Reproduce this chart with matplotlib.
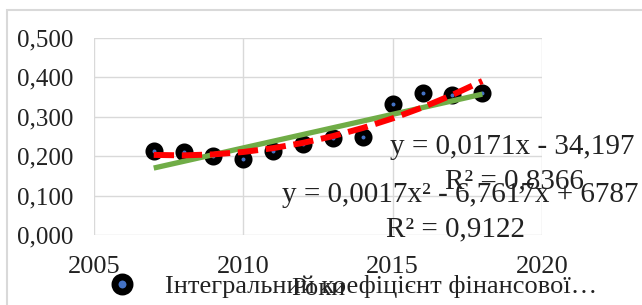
import matplotlib.pyplot as plt
import numpy as np
from matplotlib.patches import FancyBboxPatch
from matplotlib.ticker import FuncFormatter

years = [2007, 2008, 2009, 2010, 2011, 2012, 2013, 2014, 2015, 2016, 2017, 2018]
coef = [0.213, 0.211, 0.200, 0.192, 0.213, 0.231, 0.245, 0.250, 0.332, 0.361, 0.355, 0.361]

series_label = "Інтегральний коефіцієнт фінансової…"
x_label = "Роки"
lin_eq = "y = 0,0171x - 34,197"
lin_r2 = "R² = 0,8366"
poly_eq = "y = 0,0017x² - 6,7617x + 6787"
poly_r2 = "R² = 0,9122"

plt.rcParams['font.family'] = ['Liberation Serif', 'DejaVu Serif']

fig = plt.figure(figsize=(6.42, 3.05), dpi=100)
ax = fig.add_axes([94 / 642, 70 / 305, 448 / 642, 197 / 305])

# outer chart frame
fig.patches.append(FancyBboxPatch((7 / 642, -0.1), 1.1, (295 + 30) / 305,
                                  boxstyle="square,pad=0", transform=fig.transFigure,
                                  fill=False, edgecolor='#d9d9d9', linewidth=1.5))

x = np.array(years, dtype=float)
y = np.array(coef)

ax.plot(x, y, 'o', color='#4472C4', markersize=8, markeredgecolor='black',
        markeredgewidth=5, zorder=3, label=series_label)

p1 = np.polyfit(x, y, 1)
p2 = np.polyfit(x - 2000, y, 2)
ax.plot(x, np.polyval(p1, x), color='#70AD47', lw=3.8, solid_capstyle='butt', zorder=4)
ax.plot(x, np.polyval(p2, x - 2000), color='#FF0000', lw=4.3,
        linestyle=(0, (3.4, 1.3)), dash_capstyle='butt', zorder=5)

ax.set_xlim(2005, 2020)
ax.set_ylim(0, 0.5)
ax.set_xticks([2005, 2010, 2015, 2020])
ax.set_yticks(np.arange(0, 0.51, 0.1))
ax.yaxis.set_major_formatter(FuncFormatter(lambda v, p: f"{v:.3f}".replace('.', ',')))
ax.grid(True, color='#d9d9d9', lw=1)
ax.set_axisbelow(True)
for s in ax.spines.values():
    s.set_visible(False)
ax.tick_params(length=0, labelsize=18, colors='#222222')
ax.tick_params(axis='x', pad=15, labelsize=19)
ax.tick_params(axis='y', pad=15)

ax.set_xlabel(x_label, fontsize=19, labelpad=0, color='#222222')

fs = 21
fig.text(390 / 642, 1 - 147 / 305, lin_eq, fontsize=fs, ha='left', va='center', color='#222222')
fig.text(514 / 642, 1 - 181 / 305, lin_r2, fontsize=fs, ha='center', va='center', color='#222222')
fig.text(638 / 642, 1 - 195 / 305, poly_eq, fontsize=fs, ha='right', va='center', color='#222222')
fig.text(456 / 642, 1 - 229 / 305, poly_r2, fontsize=fs, ha='center', va='center', color='#222222')

fig.legend(loc='center left', bbox_to_anchor=(95 / 642, 1 - 286 / 305), frameon=False,
           fontsize=19, handlelength=2.05, handletextpad=0.6, borderaxespad=0,
           borderpad=0, markerscale=1.35, labelcolor='#222222')

fig.savefig("out.png", dpi=100)
